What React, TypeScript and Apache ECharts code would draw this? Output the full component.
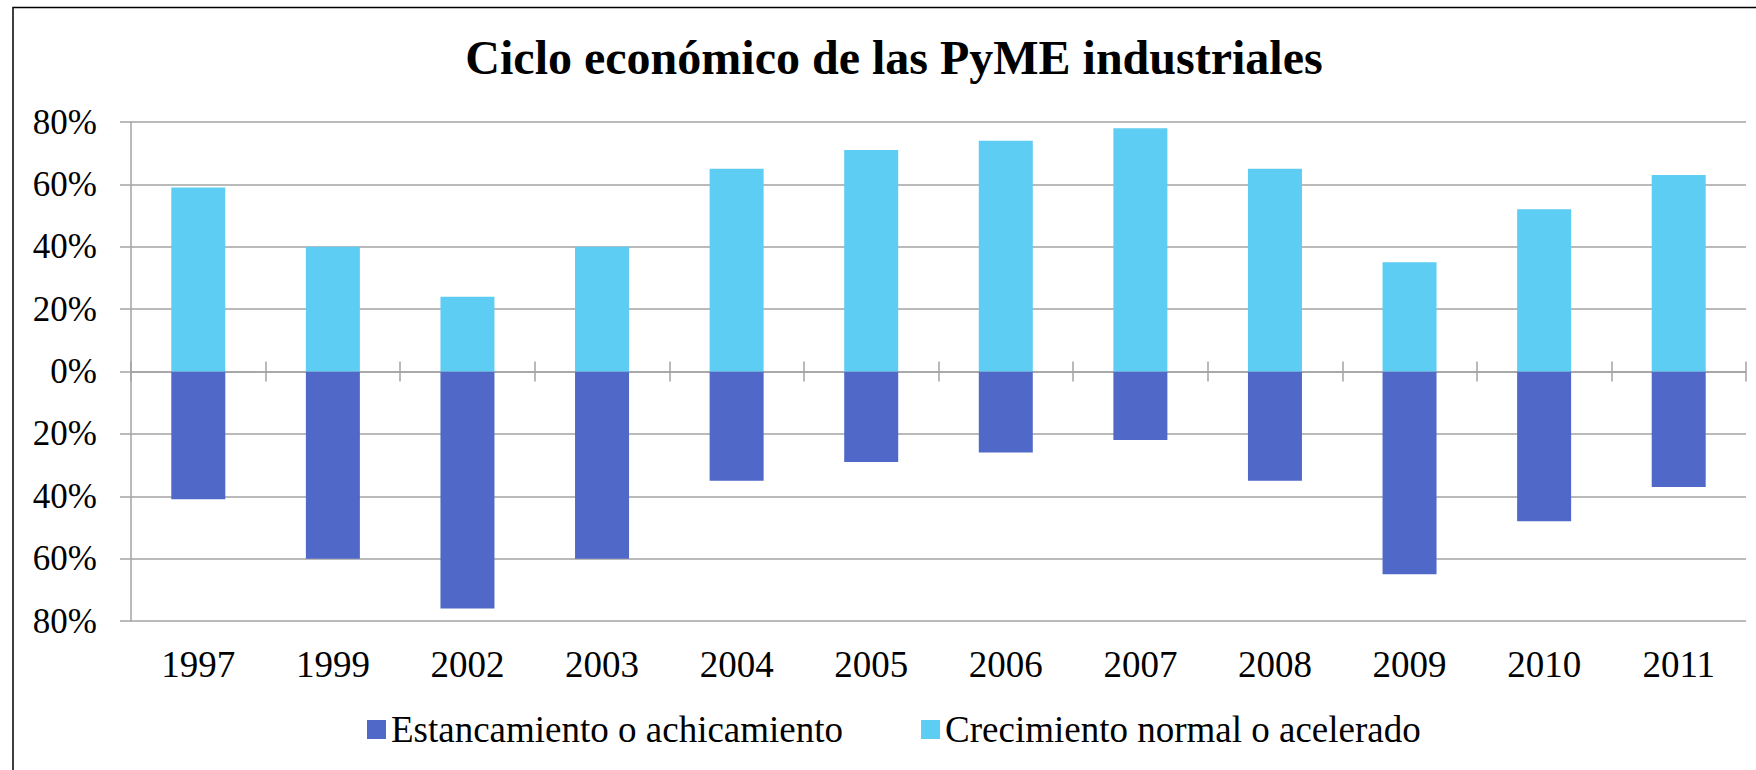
import React, { useEffect, useRef } from "react";
import * as echarts from "echarts";

const years = ["1997", "1999", "2002", "2003", "2004", "2005", "2006", "2007", "2008", "2009", "2010", "2011"];
const estancamiento = [-41, -60, -76, -60, -35, -29, -26, -22, -35, -65, -48, -37];
const crecimiento = [59, 40, 24, 40, 65, 71, 74, 78, 65, 35, 52, 63];
const seriesNames = ["Estancamiento o achicamiento", "Crecimiento normal o acelerado"];
const titleText = "Ciclo económico de las PyME industriales";

const FONT = '"Liberation Serif", "Times New Roman", serif';
const GRID_COLOR = "#a3a3a3";

export default function App() {
  const ref = useRef<HTMLDivElement>(null);
  useEffect(() => {
    if (!ref.current) return;
    const chart = echarts.init(ref.current, undefined, { renderer: "svg" });
    chart.setOption({
      animation: false,
      backgroundColor: "#ffffff",
      graphic: [
        {
          type: "rect",
          z: -10,
          shape: { x: 13, y: 7.5, width: 1800, height: 820 },
          style: { fill: "none", stroke: "#000000", lineWidth: 1.5 },
        },
        {
          type: "text",
          x: 894,
          y: 57,
          style: {
            text: titleText,
            font: `bold 48px ${FONT}`,
            fill: "#000000",
            textAlign: "center",
            textVerticalAlign: "middle",
          },
        },
      ],
      legend: {
        left: 367,
        top: 711,
        padding: 0,
        itemGap: 78,
        itemWidth: 19,
        itemHeight: 19,
        icon: "rect",
        data: seriesNames,
        textStyle: { fontFamily: FONT, fontSize: 37, color: "#000000" },
      },
      grid: { left: 131, right: 10, top: 122, bottom: 149, containLabel: false },
      xAxis: [
        {
          type: "category",
          data: years,
          position: "bottom",
          axisLine: { show: false, onZero: false },
          axisTick: { show: false },
          axisLabel: { fontFamily: FONT, fontSize: 37, color: "#000000", margin: 25, interval: 0 },
          splitLine: { show: false },
        },
        {
          type: "category",
          data: years,
          position: "top",
          axisLine: { show: true, onZero: true, onZeroAxisIndex: 0, lineStyle: { color: GRID_COLOR, width: 1.5 } },
          axisTick: { show: true, length: 10, lineStyle: { color: GRID_COLOR, width: 1.5 } },
          axisLabel: { show: false },
          splitLine: { show: false },
        },
        {
          type: "category",
          data: years,
          position: "bottom",
          axisLine: { show: false, onZero: true, onZeroAxisIndex: 0 },
          axisTick: { show: true, length: 10, lineStyle: { color: GRID_COLOR, width: 1.5 } },
          axisLabel: { show: false },
          splitLine: { show: false },
        },
      ],
      yAxis: {
        type: "value",
        min: -80,
        max: 80,
        interval: 20,
        axisLine: { show: true, lineStyle: { color: GRID_COLOR, width: 1.5 } },
        axisTick: { show: true, length: 11, lineStyle: { color: GRID_COLOR, width: 1.5 } },
        axisLabel: {
          fontFamily: FONT,
          fontSize: 35,
          color: "#000000",
          margin: 34,
          formatter: (v: number) => `${Math.abs(v)}%`,
        },
        splitLine: { show: true, lineStyle: { color: GRID_COLOR, width: 1.5 } },
      },
      series: [
        {
          name: seriesNames[0],
          type: "bar",
          stack: "total",
          xAxisIndex: 0,
          data: estancamiento,
          barWidth: 54,
          itemStyle: { color: "#5068c8" },
        },
        {
          name: seriesNames[1],
          type: "bar",
          stack: "total",
          xAxisIndex: 0,
          data: crecimiento,
          barWidth: 54,
          itemStyle: { color: "#5ecdf3" },
        },
      ],
    });
    return () => chart.dispose();
  }, []);
  return (
    <div
      ref={ref}
      style={{ position: "fixed", left: 0, top: 0, width: 1756, height: 770, background: "#ffffff" }}
    />
  );
}
